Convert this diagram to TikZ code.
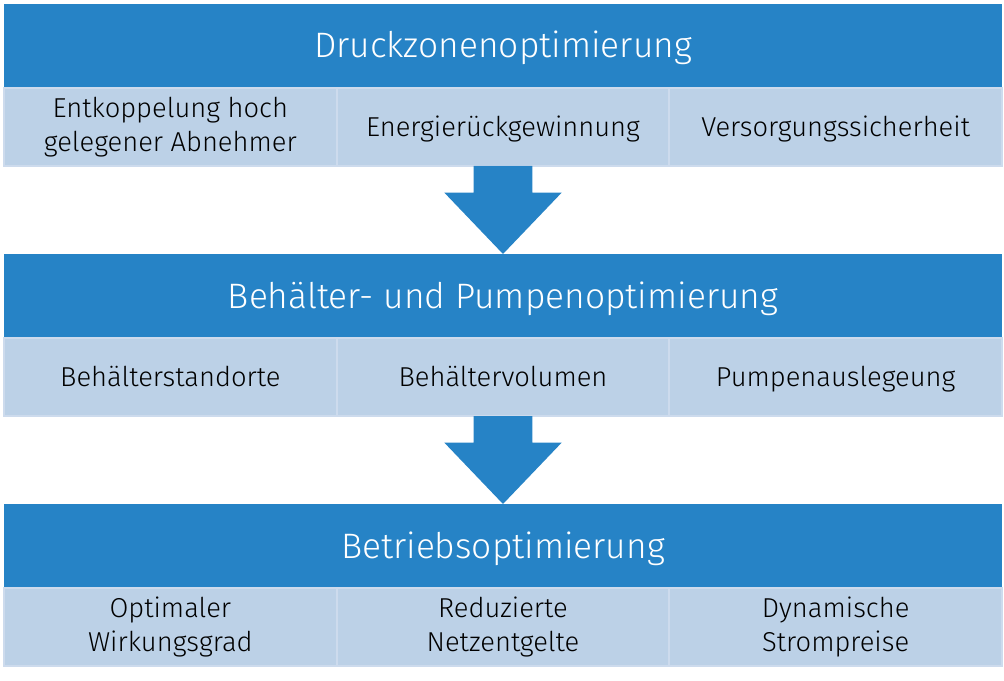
\documentclass[tikz,border=0pt]{standalone}
\usepackage{fontspec}
\setmainfont{Fira Sans}[UprightFont=* Light]
\usepackage{tikz}
\usetikzlibrary{positioning}

\definecolor{barblue}{RGB}{38,131,198}
\definecolor{cellfill}{RGB}{188,209,231}
\definecolor{cellline}{RGB}{205,219,237}

\tikzset{
  titlebar/.style={fill=barblue, text=white, inner sep=0pt, outer sep=0pt,
    minimum width=748.5pt, minimum height=63pt, text height=21pt, text depth=3pt,
    font=\fontsize{26.5}{30}\selectfont},
  subcell/.style={fill=cellfill, draw=cellline, line width=1.5pt, inner sep=0pt, outer sep=0pt,
    minimum width=249.5pt, minimum height=58.5pt, align=center,
    font=\fontsize{20.5}{25}\selectfont},
  onecell/.style={subcell, text height=17pt, text depth=2.6pt},
  flowarrow/.style={fill=barblue}
}

\begin{document}
\begin{tikzpicture}[x=0.75pt, y=-0.75pt, node distance=0pt]
  \useasboundingbox (0,0) rectangle (1004,681);

  % Druckzonen
  \node[titlebar] (h1) at (503,46) {Druckzonenoptimierung};
  \node[subcell, below right=0pt and 0pt of h1.south west] (c11) {Entkoppelung hoch\\gelegener Abnehmer};
  \node[onecell, right=of c11] (c12) {Energierückgewinnung};
  \node[onecell, right=of c12] (c13) {Versorgungssicherheit};

  % Behaelter und Pumpen
  \node[titlebar, below=66pt of c12.south] (h2) {Behälter- und Pumpenoptimierung};
  \node[onecell, below right=0pt and 0pt of h2.south west] (c21) {Behälterstandorte};
  \node[onecell, right=of c21] (c22) {Behältervolumen};
  \node[onecell, right=of c22] (c23) {Pumpenauslegeung};

  % Betrieb
  \node[titlebar, below=66pt of c22.south] (h3) {Betriebsoptimierung};
  \node[subcell, below right=0pt and 0pt of h3.south west] (c31) {Optimaler\\Wirkungsgrad};
  \node[subcell, right=of c31] (c32) {Reduzierte\\Netzentgelte};
  \node[subcell, right=of c32] (c33) {Dynamische\\Strompreise};

  % Pfeile
  \fill[flowarrow] ([xshift=-22pt]c12.south) -- ([xshift=22pt]c12.south)
    -- ([xshift=22pt,yshift=-20pt]c12.south) -- ([xshift=44pt,yshift=-20pt]c12.south)
    -- (h2.north) -- ([xshift=-44pt,yshift=-20pt]c12.south)
    -- ([xshift=-22pt,yshift=-20pt]c12.south) -- cycle;
  \fill[flowarrow] ([xshift=-22pt]c22.south) -- ([xshift=22pt]c22.south)
    -- ([xshift=22pt,yshift=-20pt]c22.south) -- ([xshift=44pt,yshift=-20pt]c22.south)
    -- (h3.north) -- ([xshift=-44pt,yshift=-20pt]c22.south)
    -- ([xshift=-22pt,yshift=-20pt]c22.south) -- cycle;
\end{tikzpicture}
\end{document}
